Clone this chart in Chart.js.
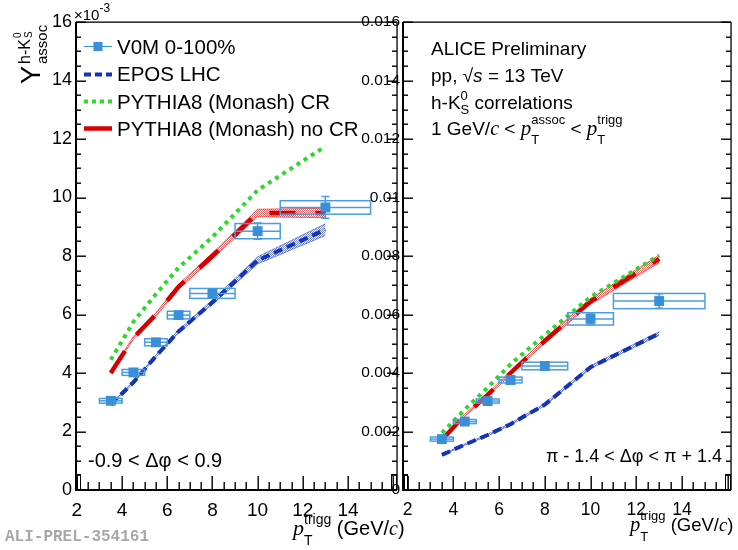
<!DOCTYPE html>
<html><head><meta charset="utf-8">
<script src="https://cdn.jsdelivr.net/npm/chart.js@4.4.1/dist/chart.umd.min.js"></script>
<style>
html,body{margin:0;padding:0;background:#fff;}
#wrap{position:relative;width:738px;height:550px;overflow:hidden;background:#fff;}
#wrap canvas{position:absolute;top:0;}
</style></head><body>
<div id="wrap">
<canvas id="near" width="404" height="550" style="left:0px"></canvas>
<canvas id="away" width="388" height="550" style="left:350px"></canvas>
</div>
<script>
// ---------------- data ----------------
const ptCenters = [3.5, 4.5, 5.5, 6.5, 8, 10, 13];
const ptBinLow  = [3, 4, 5, 6, 7, 9, 11];
const ptBinHigh = [4, 5, 6, 7, 9, 11, 15];

// near side: -0.9 < dphi < 0.9
const nearV0M     = [0.00305, 0.00402, 0.00505, 0.00598, 0.00672, 0.00885, 0.00966];
const nearV0MStat = [0.00006, 0.00007, 0.00008, 0.00009, 0.00012, 0.00028, 0.00037];
const nearV0MSys  = [0.00008, 0.00010, 0.00012, 0.00013, 0.00017, 0.00026, 0.00023];
const nearEPOS    = [0.00292, 0.00368, 0.00458, 0.00542, 0.00642, 0.00785, 0.00890];
const nearEPOSErr = [0.00003, 0.00003, 0.00004, 0.00005, 0.00008, 0.00012, 0.00020];
const nearCR      = [0.00445, 0.00575, 0.00670, 0.00760, 0.00865, 0.01025, 0.01175];
const nearNoCR    = [0.00400, 0.00520, 0.00600, 0.00695, 0.00800, 0.00947, 0.00947];
const nearNoCRErr = [0.00003, 0.00005, 0.00006, 0.00008, 0.00010, 0.00013, 0.00016];

// away side: pi - 1.4 < dphi < pi + 1.4
const awayV0M     = [0.00174, 0.00234, 0.00304, 0.00376, 0.00424, 0.00585, 0.00646];
const awayV0MStat = [0.00004, 0.00005, 0.00005, 0.00006, 0.00008, 0.00020, 0.00025];
const awayV0MSys  = [0.00007, 0.00007, 0.00007, 0.00010, 0.00013, 0.00021, 0.00026];
const awayEPOS    = [0.00120, 0.00155, 0.00188, 0.00225, 0.00292, 0.00420, 0.00535];
const awayEPOSErr = [0.00002, 0.00002, 0.00003, 0.00003, 0.00004, 0.00005, 0.00006];
const awayCR      = [0.00195, 0.00275, 0.00350, 0.00430, 0.00530, 0.00660, 0.00802];
const awayNoCR    = [0.00172, 0.00255, 0.00325, 0.00400, 0.00510, 0.00645, 0.00790];
const awayNoCRErr = [0.00003, 0.00004, 0.00005, 0.00006, 0.00008, 0.00010, 0.00013];

const xTickValues = [2, 4, 6, 8, 10, 12, 14];
const yTickValues = [0, 0.002, 0.004, 0.006, 0.008, 0.010, 0.012, 0.014, 0.016];
const nearYLabels = ['0','2','4','6','8','10','12','14','16'];
const awayYLabels = ['0','0.002','0.004','0.006','0.008','0.01','0.012','0.014','0.016'];
const legendLabels = ['V0M 0-100%', 'EPOS LHC', 'PYTHIA8 (Monash) CR', 'PYTHIA8 (Monash) no CR'];

// ---------------- style ----------------
const SANS = '"Liberation Sans", Arial, Helvetica, sans-serif';
const SERIF = '"Liberation Serif", "Times New Roman", serif';
const C_DATA = '#3a8fd9';
const C_BOX = '#4a9de2';
const C_EPOS = '#1434b4';
const C_CR = '#2fd62f';
const C_NOCR = '#d60000';
const X_MINOR = 0.5, Y_MINOR = 0.0005;

const f = (s) => s + 'px ' + SANS;
const fi = (s) => 'italic ' + s + 'px ' + SERIF;
function pts(xs, ys) { return xs.map((x, i) => ({x: x, y: ys[i]})); }
function shift(ys, es, s) { return ys.map((y, i) => y + s * es[i]); }
function hatch(ctx, color) {
  const c = document.createElement('canvas'); c.width = 4; c.height = 4;
  const g = c.getContext('2d'); g.fillStyle = color;
  for (let i = 0; i < 4; i++) for (let j = 0; j < 4; j++) if ((i + j) % 2 === 0) g.fillRect(i, j, 1, 1);
  return ctx.createPattern(c, 'repeat');
}
// rich text: parts {t,font,dy} or {sup,sub,font,supDy,subDy}
function rich(ctx, x, y, parts) {
  let cx = x;
  for (const p of parts) {
    ctx.font = p.font;
    if (p.sup !== undefined) {
      const w = Math.max(ctx.measureText(p.sup).width, ctx.measureText(p.sub).width);
      ctx.fillText(p.sup, cx, y + p.supDy); ctx.fillText(p.sub, cx, y + p.subDy);
      cx += w + (p.after || 0);
    } else {
      ctx.fillText(p.t, cx, y + (p.dy || 0));
      cx += ctx.measureText(p.t).width + (p.after || 0);
    }
  }
  return cx - x;
}

function drawErrors(chart, s) {
  const {ctx, scales: {x, y}} = chart;
  ctx.save();
  ctx.setLineDash([]);
  ctx.strokeStyle = C_BOX; ctx.lineWidth = 1.5;
  ptCenters.forEach((c, i) => {
    const xl = x.getPixelForValue(ptBinLow[i]), xh = x.getPixelForValue(ptBinHigh[i]);
    const yv = y.getPixelForValue(s.v[i]);
    const yt = y.getPixelForValue(s.v[i] + s.sys[i]), yb = y.getPixelForValue(s.v[i] - s.sys[i]);
    ctx.strokeRect(xl, yt, xh - xl, yb - yt);
    ctx.beginPath(); ctx.moveTo(xl, yv); ctx.lineTo(xh, yv); ctx.stroke();
    const xc = x.getPixelForValue(c);
    const st = y.getPixelForValue(s.v[i] + s.stat[i]), sb = y.getPixelForValue(s.v[i] - s.stat[i]);
    ctx.beginPath();
    ctx.moveTo(xc, st); ctx.lineTo(xc, sb);
    ctx.moveTo(xc - 4, st); ctx.lineTo(xc + 4, st);
    ctx.moveTo(xc - 4, sb); ctx.lineTo(xc + 4, sb);
    ctx.stroke();
  });
  ctx.restore();
}

function drawFrame(chart) {
  const {ctx, chartArea: a, scales: {x, y}} = chart;
  ctx.save();
  ctx.setLineDash([]);
  ctx.globalAlpha = 1;
  ctx.fillStyle = '#000';
  const L = Math.round(a.left), R = Math.round(a.right), T = Math.round(a.top), B = Math.round(a.bottom);
  // x ticks (inward, from the bottom axis)
  const n0 = Math.ceil(x.min / X_MINOR - 1e-9), n1 = Math.floor(x.max / X_MINOR + 1e-9);
  for (let n = n0; n <= n1; n++) {
    const px = Math.round(x.getPixelForValue(n * X_MINOR));
    const len = (n % 4 === 0) ? 14 : 8;
    ctx.fillRect(px - 0.5, B - len, 1.4, len);
  }
  // y ticks (inward, on both sides)
  const m1 = Math.round(y.max / Y_MINOR);
  for (let n = 0; n <= m1; n++) {
    const py = Math.round(y.getPixelForValue(n * Y_MINOR));
    const len = (n % 4 === 0) ? 10 : 5;
    ctx.fillRect(L, py - 0.5, len, 1.4);
    ctx.fillRect(R - len, py - 0.5, len, 1.4);
  }
  // small corner boxes
  ctx.strokeStyle = '#000'; ctx.lineWidth = 1;
  ctx.strokeRect(L + 1.5, B - 15.5, 3, 15);
  ctx.strokeRect(R - 5.5, B - 15.5, 5, 15);
  // frame
  ctx.fillRect(L, T - 0.5, R - L, 1.3);
  ctx.fillRect(R - 0.6, T, 1.3, B - T);
  ctx.fillRect(L - 1, T, 2, B - T + 1);
  ctx.fillRect(L - 1, B - 1, R - L + 1, 2);
  ctx.restore();
}

function xTitle(ctx, x, y, big, small) {
  ctx.fillStyle = '#000'; ctx.textAlign = 'left'; ctx.textBaseline = 'alphabetic';
  rich(ctx, x, y, [
    {t: 'p', font: fi(big + 2)},
    {sup: 'trigg', sub: 'T', font: f(small), supDy: -11, subDy: 10, after: 0},
    {t: ' (GeV/', font: f(big)},
    {t: 'c', font: fi(big)},
    {t: ')', font: f(big)}
  ]);
}

function drawNearText(chart) {
  const ctx = chart.ctx;
  ctx.save();
  ctx.fillStyle = '#000'; ctx.textAlign = 'left'; ctx.textBaseline = 'alphabetic';
  // legend
  const ly = [46.5, 74.5, 101.5, 128.5];
  ctx.lineCap = 'butt';
  ctx.strokeStyle = C_DATA; ctx.lineWidth = 1;
  ctx.beginPath(); ctx.moveTo(84, ly[0]); ctx.lineTo(112, ly[0]); ctx.stroke();
  ctx.fillStyle = C_DATA; ctx.fillRect(93.5, ly[0] - 4.5, 9, 9);
  ctx.strokeStyle = C_EPOS; ctx.lineWidth = 4; ctx.setLineDash([7, 4]);
  ctx.beginPath(); ctx.moveTo(84, ly[1]); ctx.lineTo(112, ly[1]); ctx.stroke();
  ctx.strokeStyle = C_CR; ctx.setLineDash([4, 4]);
  ctx.beginPath(); ctx.moveTo(84, ly[2]); ctx.lineTo(112, ly[2]); ctx.stroke();
  ctx.strokeStyle = C_NOCR; ctx.lineWidth = 4.5; ctx.setLineDash([]);
  ctx.beginPath(); ctx.moveTo(84, ly[3]); ctx.lineTo(112, ly[3]); ctx.stroke();
  ctx.fillStyle = '#000';
  ctx.font = f(20.5);
  const lb = [53.5, 81, 108.5, 135.5];
  legendLabels.forEach((t, i) => ctx.fillText(t, 117, lb[i]));
  // x10^-3
  rich(ctx, 74, 20, [{t: '\u00d710', font: f(15)}, {t: '-3', font: f(12), dy: -8}]);
  // dphi range
  ctx.font = f(20); ctx.fillText('-0.9 < \u0394\u03c6 < 0.9', 88, 467);
  // x title
  xTitle(ctx, 293, 535, 20, 14);
  // ALICE tag
  ctx.fillStyle = '#a8a8a8'; ctx.font = 'bold 16px "Liberation Mono", "DejaVu Sans Mono", monospace';
  ctx.fillText('ALI-PREL-354161', 5, 541);
  // y title (rotated)
  ctx.fillStyle = '#000';
  ctx.translate(40, 84); ctx.rotate(-Math.PI / 2);
  ctx.font = f(27); ctx.fillText('Y', 0, 0);
  const wy = ctx.measureText('Y').width + 2;
  ctx.font = f(15); ctx.fillText('assoc', wy, 7);
  ctx.font = f(16); ctx.fillText('h-K', wy, -10);
  const wh = ctx.measureText('h-K').width;
  ctx.font = f(10); ctx.fillText('0', wy + wh + 1, -19); ctx.fillText('S', wy + wh + 1, -8);
  ctx.restore();
}

function drawAwayText(chart) {
  const ctx = chart.ctx, OFF = 350;
  ctx.save();
  ctx.fillStyle = '#000'; ctx.textAlign = 'left'; ctx.textBaseline = 'alphabetic';
  const X0 = 431 - OFF;
  ctx.font = f(19); ctx.fillText('ALICE Preliminary', X0, 54.5);
  rich(ctx, X0, 81.5, [
    {t: 'pp, ', font: f(19)},
    {t: '\u221a', font: f(19)},
    {t: 's', font: 'italic 19px ' + SANS},
    {t: ' = 13 TeV', font: f(19)}
  ]);
  rich(ctx, X0, 108.5, [
    {t: 'h-K', font: f(19)},
    {sup: '0', sub: 'S', font: f(13), supDy: -9, subDy: 5},
    {t: ' correlations', font: f(19)}
  ]);
  rich(ctx, X0, 135, [
    {t: '1 GeV/', font: f(19)},
    {t: 'c', font: fi(20)},
    {t: ' < ', font: f(19)},
    {t: 'p', font: fi(21)},
    {sup: 'assoc', sub: 'T', font: f(13), supDy: -11, subDy: 9},
    {t: ' < ', font: f(19)},
    {t: 'p', font: fi(21)},
    {sup: 'trigg', sub: 'T', font: f(13), supDy: -11, subDy: 9}
  ]);
  ctx.font = f(18); ctx.textAlign = 'right';
  ctx.fillText('\u03c0 - 1.4 < \u0394\u03c6 < \u03c0 + 1.4', 722 - OFF, 462);
  ctx.textAlign = 'left';
  xTitle(ctx, 630 - OFF, 531, 18.5, 13);
  ctx.restore();
}

function buildChart(id, s) {
  const ctx = document.getElementById(id).getContext('2d');
  const redHatch = hatch(ctx, 'rgba(215,0,0,0.6)');
  const blueHatch = hatch(ctx, 'rgba(20,50,180,0.6)');
  return new Chart(ctx, {
    type: 'line',
    data: {datasets: [
      {id: 'data', label: legendLabels[0], data: pts(ptCenters, s.v), showLine: false, pointStyle: 'rect',
       pointRadius: 7, pointHoverRadius: 7, pointBackgroundColor: C_DATA, pointBorderWidth: 0,
       borderColor: C_DATA, backgroundColor: C_DATA, order: 0},
      {label: legendLabels[1], data: pts(ptCenters, s.epos), borderColor: C_EPOS, borderWidth: 4,
       borderDash: [9, 5], pointRadius: 0, fill: false, order: 1},
      {label: legendLabels[2], data: pts(ptCenters, s.cr), borderColor: C_CR, borderWidth: 4,
       borderDash: [4, 4.5], pointRadius: 0, fill: false, order: 2},
      {label: legendLabels[3], data: pts(ptCenters, s.nocr), borderColor: C_NOCR, borderWidth: 4.5,
       borderDash: [26, 20], pointRadius: 0, fill: false, order: 3},
      {label: 'EPOS band up', data: pts(ptCenters, shift(s.epos, s.eposErr, 1)), borderColor: 'rgba(30,60,190,0.55)',
       borderWidth: 1, pointRadius: 0, fill: '+1', backgroundColor: blueHatch, order: 4},
      {label: 'EPOS band low', data: pts(ptCenters, shift(s.epos, s.eposErr, -1)), borderColor: 'rgba(30,60,190,0.55)',
       borderWidth: 1, pointRadius: 0, fill: false, order: 4},
      {label: 'no CR band up', data: pts(ptCenters, shift(s.nocr, s.nocrErr, 1)), borderColor: 'rgba(215,0,0,0.55)',
       borderWidth: 1, pointRadius: 0, fill: '+1', backgroundColor: redHatch, order: 5},
      {label: 'no CR band low', data: pts(ptCenters, shift(s.nocr, s.nocrErr, -1)), borderColor: 'rgba(215,0,0,0.55)',
       borderWidth: 1, pointRadius: 0, fill: false, order: 5}
    ]},
    options: {
      responsive: false, animation: false, events: [],
      layout: {padding: {top: 22, right: s.padRight, left: 0, bottom: 0}},
      plugins: {legend: {display: false}, tooltip: {enabled: false}, title: {display: false}},
      scales: {
        x: {type: 'linear', min: s.xmin, max: s.xmax,
            grid: {display: false, drawTicks: false}, border: {display: false},
            afterBuildTicks: (sc) => { sc.ticks = xTickValues.map(v => ({value: v})); },
            ticks: {color: '#000', font: {family: SANS, size: s.xFont}, padding: s.xPad, maxRotation: 0,
                    autoSkip: false, callback: (v) => String(v)},
            afterFit: (sc) => { sc.height = 60; }},
        y: {type: 'linear', min: 0, max: 0.016,
            grid: {display: false, drawTicks: false}, border: {display: false},
            afterBuildTicks: (sc) => { sc.ticks = yTickValues.map(v => ({value: v})); },
            ticks: {color: '#000', font: {family: SANS, size: s.yFont}, padding: s.yPad, autoSkip: false,
                    callback: (v, i) => s.yLabels[i]},
            afterFit: (sc) => { sc.width = s.yWidth; }}
      }
    },
    plugins: [{
      id: 'root_' + id,
      beforeDatasetDraw(chart, args) {
        if (chart.data.datasets[args.index].id === 'data') drawErrors(chart, s);
      },
      afterDraw(chart) { drawFrame(chart); s.text(chart); }
    }]
  });
}

buildChart('near', {
  v: nearV0M, stat: nearV0MStat, sys: nearV0MSys, epos: nearEPOS, eposErr: nearEPOSErr,
  cr: nearCR, nocr: nearNoCR, nocrErr: nearNoCRErr,
  xmin: 1.96, xmax: 16.17, padRight: 1, yWidth: 76, xFont: 19, yFont: 18, xPad: 9, yPad: 4,
  yLabels: nearYLabels, text: drawNearText
});
buildChart('away', {
  v: awayV0M, stat: awayV0MStat, sys: awayV0MSys, epos: awayEPOS, eposErr: awayEPOSErr,
  cr: awayCR, nocr: awayNoCR, nocrErr: awayNoCRErr,
  xmin: 1.8, xmax: 16.14, padRight: 1, yWidth: 53, xFont: 17.5, yFont: 15.5, xPad: 10, yPad: 3,
  yLabels: awayYLabels, text: drawAwayText
});
</script>
</body></html>
